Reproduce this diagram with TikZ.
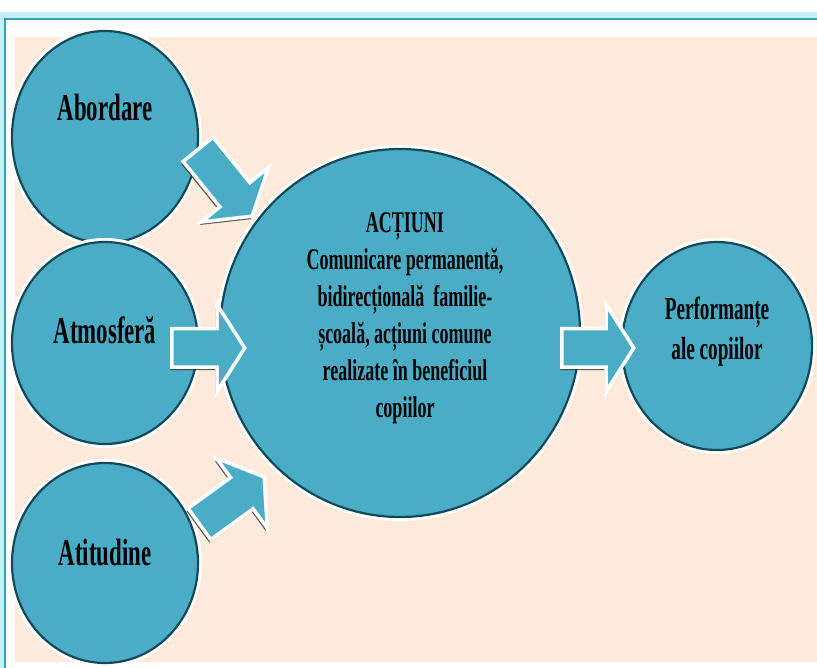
\documentclass[tikz,border=0pt]{standalone}
\usepackage{fontspec}
\setmainfont{Liberation Serif}[FakeStretch=0.6]
\usetikzlibrary{shapes.geometric,shapes.arrows,shadows}

\definecolor{peach}{HTML}{FDEADB}
\definecolor{aqua}{HTML}{4BACC6}
\definecolor{aquadark}{HTML}{15495A}
\definecolor{frameteal}{HTML}{2BA6AA}
\definecolor{frameglow}{HTML}{C6EFF8}

\tikzset{
  bubble/.style={ellipse, fill=aqua, draw=aquadark, line width=2.2pt,
    preaction={draw=white, line width=8pt}, inner sep=0pt},
  blockarrow/.style={single arrow, anchor=tail, fill=aqua, draw=white,
    line width=3.5pt, text height=0pt, text depth=0pt, inner xsep=0pt,
    inner ysep=17.5pt, single arrow tip angle=115, single arrow head extend=24pt,
    drop shadow={shadow xshift=-1.5pt, shadow yshift=-3pt, opacity=0.8, fill=black!80}},
  sidetxt/.style={font=\bfseries\fontsize{38}{40}\selectfont},
  midtxt/.style={font=\bfseries\fontsize{30}{37}\selectfont, align=center},
  righttxt/.style={font=\bfseries\fontsize{32}{40}\selectfont, align=center}
}

\begin{document}
\begin{tikzpicture}[x=1pt, y=-1pt]
\useasboundingbox (0,0) rectangle (817,668);
\clip (0,0) rectangle (817,668);
% frame
\fill[white] (0,0) rectangle (817,668);
\draw[frameteal, line width=1.5pt, preaction={draw=frameglow, line width=14pt}] (5,19) rectangle (840,700);
\fill[white] (6,20) rectangle (817,668);
\fill[peach] (15,37) rectangle (817,662);

% circles
\node[bubble, minimum width=186pt, minimum height=212pt] (abordare) at (105,137) {};
\node[bubble, minimum width=186pt, minimum height=202pt] (atmosfera) at (105,343) {};
\node[bubble, minimum width=186pt, minimum height=200pt] (atitudine) at (105,563) {};
\node[bubble, minimum width=360pt, minimum height=368pt] (actiuni) at (400,333) {};
\node[bubble, minimum width=190pt, minimum height=208pt] (performante) at (717,346) {};

% texts
\node[sidetxt] (tabordare) at (105,108) {Abordare};
\node[sidetxt] (tatmosfera) at (105,330) {Atmosferă};
\node[sidetxt] (tatitudine) at (105,553) {Atitudine};
\node[midtxt] (tactiuni) at (405,318) {ACȚIUNI\\ Comunicare permanentă,\\ bidirecțională\ \ familie-\\ școală, acțiuni comune\\ realizate în beneficiul\\ copiilor};
\node[righttxt] (tperformante) at (717,332) {Performanțe\\ ale copiilor};

% arrows
\node[blockarrow, rotate=-51, minimum height=86pt] (sag1) at (197,148) {};
\node[blockarrow, minimum height=73pt] (sag2) at (170,348) {};
\node[blockarrow, rotate=36, minimum height=80pt] (sag3) at (198,525) {};
\node[blockarrow, minimum height=72pt] (sag4) at (560,348) {};
\end{tikzpicture}
\end{document}
